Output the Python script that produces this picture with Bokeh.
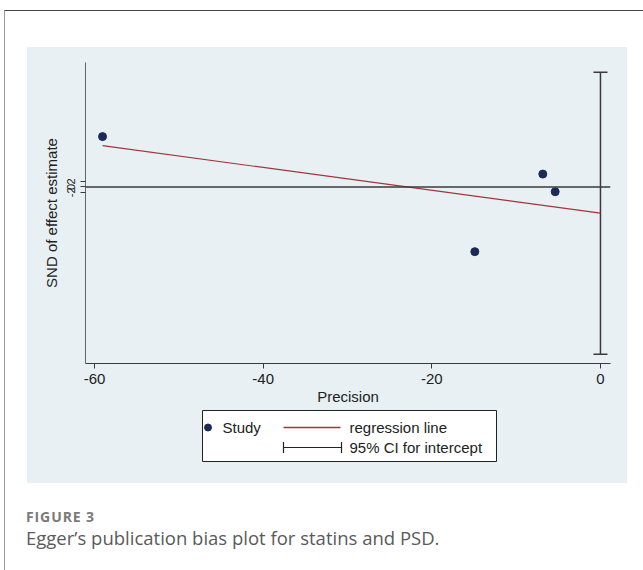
from bokeh.plotting import figure
from bokeh.models import Range1d, FixedTicker, Span, Whisker, ColumnDataSource, Div, Spacer, TeeHead
from bokeh.layouts import column, row
from bokeh.core.properties import value
from bokeh.embed import file_html
from bokeh.resources import INLINE

# ---- data ----
study_precision = [-59.05, -6.84, -5.37, -14.9]
study_snd = [18.8, 4.8, -1.8, -24.2]
reg_x = [-59.05, 0.0]
reg_y = [15.4, -9.8]
ci_x = [0.0]
ci_lower = [-62.5]
ci_upper = [42.9]
y_ticks = [-2, 0, 2]
x_ticks = [-60, -40, -20, 0]
legend_labels = ["Study", "regression line", "95% CI for intercept"]

PANEL = "#e8f0f3"
NAVY = "#1b2a57"
RED = "#a3343a"
AX = "#3a3a3a"
FONT = "Liberation Sans"

p = figure(width=600, height=361,
           x_range=Range1d(-61.07, 1.19), y_range=Range1d(-66.0, 46.5),
           output_backend="svg", toolbar_location=None,
           min_border_left=58, min_border_right=17, min_border_top=15, min_border_bottom=45)
p.background_fill_color = PANEL
p.border_fill_color = PANEL
p.outline_line_color = None
p.grid.visible = False

p.xaxis.ticker = FixedTicker(ticks=x_ticks)
p.yaxis.ticker = FixedTicker(ticks=y_ticks)
p.xaxis.major_label_overrides = {t: str(t) for t in x_ticks}
p.yaxis.major_label_overrides = {t: str(t) for t in y_ticks}
p.xaxis.minor_tick_line_color = None
p.yaxis.minor_tick_line_color = None
for ax in (p.xaxis, p.yaxis):
    ax.axis_line_color = AX
    ax.major_tick_line_color = AX
    ax.major_tick_out = 5
    ax.major_tick_in = 0
    ax.major_label_text_font = FONT
    ax.major_label_text_color = "#222222"
    ax.axis_label_text_font = FONT
    ax.axis_label_text_font_style = "normal"
    ax.axis_label_text_font_size = "15px"
    ax.axis_label_text_color = "#222222"
p.yaxis.axis_line_color = "#666666"
p.xaxis.major_label_text_font_size = "15px"
p.yaxis.major_label_text_font_size = "11px"
p.yaxis.major_label_orientation = "vertical"
p.xaxis.axis_label = "Precision"
p.yaxis.axis_label = "SND of effect estimate"
p.xaxis.major_label_standoff = 5
p.xaxis.axis_label_standoff = 1
p.yaxis.major_label_standoff = 5
p.yaxis.axis_label_standoff = 5

p.add_layout(Span(location=0, dimension="width", line_color=AX, line_width=1.5))

ci_src = ColumnDataSource(dict(x=ci_x, lo=ci_lower, hi=ci_upper))
p.add_layout(Whisker(source=ci_src, base="x", lower="lo", upper="hi", dimension="height",
                     line_color=AX, line_width=1.5,
                     upper_head=TeeHead(size=14, line_color=AX, line_width=1.5),
                     lower_head=TeeHead(size=14, line_color=AX, line_width=1.5)))

p.line(reg_x, reg_y, line_color=RED, line_width=1.2)
p.scatter(study_precision, study_snd, size=8, fill_color=NAVY, line_color=NAVY)

# ---- legend area (same side borders as the plot so frames align) ----
lf = figure(width=600, height=75, x_range=Range1d(0, 525), y_range=Range1d(0, 75),
            output_backend="svg", toolbar_location=None,
            x_axis_type=None, y_axis_type=None,
            min_border_left=58, min_border_right=17, min_border_top=0, min_border_bottom=0)
lf.grid.visible = False
lf.background_fill_color = PANEL
lf.border_fill_color = PANEL
lf.outline_line_color = None
lf.quad(left=[117], right=[411], bottom=[22], top=[73],
        fill_color="white", line_color="#222222", line_width=1)
lf.scatter([122.5], [56], size=7, fill_color=NAVY, line_color=NAVY)
lf.line([198, 255], [56, 56], line_color=RED, line_width=1.3)
lf.segment([198, 198, 256], [36, 30.5, 30.5], [256, 198, 256], [36, 41.5, 41.5],
           line_color="#222222", line_width=1.2)
lf.text([137, 264, 264], [56, 56, 36], text=legend_labels,
        text_font=value(FONT), text_font_size="15px", text_baseline="middle",
        text_align="left", text_color="#222222")

caption = Div(width=600, height=67, text=(
    '<div style="font-family:\'Open Sans\';font-size:14px;font-weight:bold;color:#7a7a7a;'
    'letter-spacing:0.9px;line-height:17px;margin:0">FIGURE 3</div>'
    '<div style="font-family:\'Open Sans\';font-size:18.5px;color:#5a5a5a;line-height:26px;margin:0">'
    'Egger\u2019s publication bias plot for statins and PSD.</div>'))

panel = column(p, lf, styles={"background-color": PANEL})

framed = column(
    Spacer(height=36, width=638),
    row(Spacer(width=22), panel, Spacer(width=16)),
    Spacer(height=20),
    row(Spacer(width=16), caption),
    styles={"border-top": "1px solid #444", "border-left": "1px solid #999"},
)

layout = column(Spacer(height=10), row(Spacer(width=4), framed))

open("out.html", "w").write(file_html(layout, INLINE))
